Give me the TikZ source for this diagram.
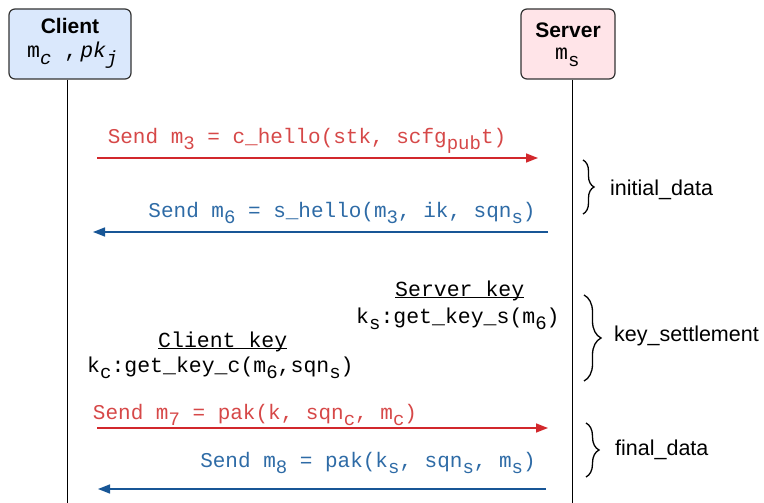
\documentclass[tikz,border=0pt]{standalone}
\usepackage{fontspec}
\setmainfont{Liberation Sans}
\setmonofont{Liberation Mono}
\usetikzlibrary{arrows.meta,decorations.pathreplacing}

\definecolor{clientfill}{RGB}{218,232,252}
\definecolor{serverfill}{RGB}{255,228,232}
\definecolor{linered}{RGB}{210,40,44}
\definecolor{textred}{RGB}{214,72,72}
\definecolor{lineblue}{RGB}{24,86,150}
\definecolor{textblue}{RGB}{46,107,166}

\newcommand{\lo}[1]{\raisebox{-6.5pt}{\fontsize{19}{19}\selectfont #1}}
\newcommand{\keyhead}[1]{\underline{\smash{#1}}}

\begin{document}
\begin{tikzpicture}[x=1pt,y=-1pt,
		actor/.style={draw=black!80, line width=1.2pt, rounded corners=6pt, minimum height=70pt},
		head/.style={font=\bfseries\fontsize{21}{21}\selectfont, inner sep=0pt, anchor=base},
		code/.style={font=\ttfamily\fontsize{21.5}{21.5}\selectfont, inner sep=0pt, anchor=base west},
		msg/.style={font=\ttfamily\fontsize{21}{21}\selectfont, inner sep=0pt, anchor=base},
		tag/.style={font=\fontsize{21.5}{21.5}\selectfont, inner sep=0pt, anchor=base west},
		life/.style={line width=1pt},
		send/.style={line width=1.5pt, -{Triangle[length=12pt,width=9pt]}},
		brc/.style={line width=1.3pt, decorate, decoration={brace, amplitude=#1}}]
			\useasboundingbox (0,0) rectangle (764,503);

			\node[actor, fill=clientfill, minimum width=122pt] (client) at (70,44) {};
			\node[actor, fill=serverfill, minimum width=94pt] (server) at (568,44) {};
			\node[head] (clientname) at (70,34) {Client};
			\node[code] (clientkeys) at (27,58) {m\lo{\itshape c} ,\hspace{3pt}{\itshape pk}\lo{\itshape j}};
			\node[head] (servername) at (568,38) {Server};
			\node[code] (serverkeys) at (555,60) {m\lo{s}};

			\coordinate (clientlife) at (67,503);
			\coordinate (serverlife) at (572,503);
			\draw[life] (client.south -| clientlife) -- (clientlife);
			\draw[life] (server.south -| serverlife) -- (serverlife);

			\node[msg, text=textred] (m3lbl) at (307,143) {Send m\lo{3} = c\_hello(stk, scfg\lo{pub}t)};
			\node[msg, text=textblue] (m6lbl) at (342,217) {Send m\lo{6} = s\_hello(m\lo{3}, ik, sqn\lo{s})};
			\node[code] (skeyhead) at (395,296) {\keyhead{Server key}};
			\node[code] (skey) at (356,323) {k\lo{s}:get\_key\_s(m\lo{6})};
			\node[code] (ckeyhead) at (158,347) {\keyhead{Client key}};
			\node[code] (ckey) at (87,372) {k\lo{c}:get\_key\_c(m\lo{6},sqn\lo{s})};
			\node[msg, text=textred] (m7lbl) at (255,419) {Send m\lo{7} = pak(k, sqn\lo{c}, m\lo{c})};
			\node[msg, text=textblue] (m8lbl) at (368,467) {Send m\lo{8} = pak(k\lo{s}, sqn\lo{s}, m\lo{s})};

			\coordinate (m3a) at (97,158);
			\coordinate (m3b) at (538,158);
			\coordinate (m6a) at (548,232);
			\coordinate (m6b) at (93,232);
			\coordinate (m7a) at (97,428);
			\coordinate (m7b) at (548,428);
			\coordinate (m8a) at (546,489);
			\coordinate (m8b) at (98,489);

			\path[send]
				(m3a) edge[draw=linered] (m3b)
				(m6a) edge[draw=lineblue] (m6b)
				(m7a) edge[draw=linered] (m7b)
				(m8a) edge[draw=lineblue] (m8b)
			;

			\coordinate (b1t) at (583,160);
			\coordinate (b1b) at (583,214);
			\coordinate (b2t) at (584,295);
			\coordinate (b2b) at (584,381);
			\coordinate (b3t) at (586,423);
			\coordinate (b3b) at (586,477);
			\draw[brc=11pt] (b1t) -- (b1b);
			\draw[brc=17pt] (b2t) -- (b2b);
			\draw[brc=13pt] (b3t) -- (b3b);

			\node[tag] (initialtag) at (610,195) {initial\_data};
			\node[tag] (keytag) at (614,341) {key\_settlement};
			\node[tag] (finaltag) at (615,455) {final\_data};
		\end{tikzpicture}
\end{document}
